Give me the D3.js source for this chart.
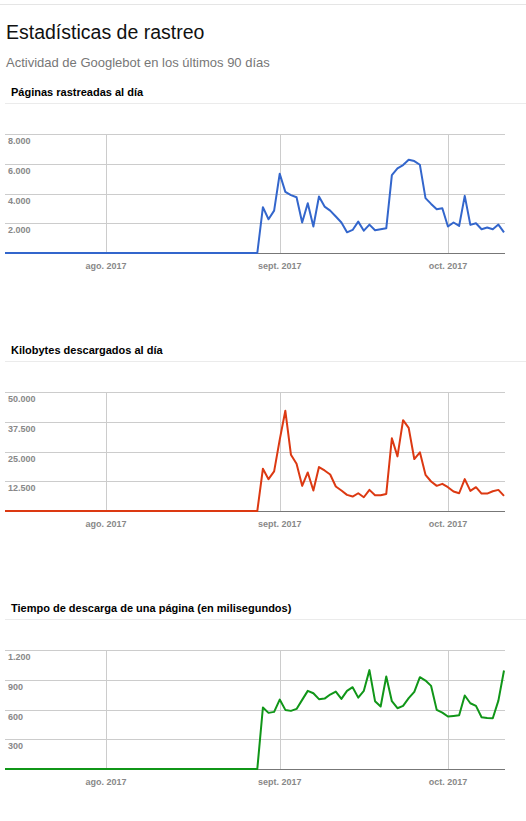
<!DOCTYPE html>
<html>
<head>
<meta charset="utf-8" />
<title>Estadísticas de rastreo</title>
<script src="https://d3js.org/d3.v7.min.js"></script>
<style>
  body { margin: 0; background: #fff; }
  svg { display: block; font-family: Arial, "Liberation Sans", sans-serif; }
</style>
</head>
<body>
<svg width="526" height="821"></svg>
<script>
// one value per day, starting at startDate
const startDate = new Date(2017, 6, 14);

const pagesPerDay = [
  0,0,0,0,0,0,0,0,0,0,0,0,0,0,0,0,0,0,
  0,0,0,0,0,0,0,0,0,0,0,0,0,0,0,0,0,0,0,0,0,0,0,0,0,0,0,0,
  3080,2270,2850,
  5330,4110,3890,3750,2050,3350,1780,3800,3120,2850,2450,2050,1390,1550,2110,
  1500,1910,1530,1600,1660,5240,5690,5910,6270,6180,5930,3690,3300,2940,3010,
  1780,2050,1820,3840,1890,2000,1600,1710,1600,1910,1390
];

const kbPerDay = [
  0,0,0,0,0,0,0,0,0,0,0,0,0,0,0,0,0,0,
  0,0,0,0,0,0,0,0,0,0,0,0,0,0,0,0,0,0,0,0,0,0,0,0,0,0,0,0,
  17750,13380,16620,
  30000,42100,23660,19860,10560,16200,8590,18450,17040,15350,10280,8590,6760,6060,7460,
  5770,8870,6620,6620,7180,30560,22960,38170,34930,21830,24650,15210,12390,10560,11410,
  10000,8170,7460,13380,8450,10000,7320,7320,8310,8870,6340
];

const msPerPage = [
  0,0,0,0,0,0,0,0,0,0,0,0,0,0,0,0,0,0,
  0,0,0,0,0,0,0,0,0,0,0,0,0,0,0,0,0,0,0,0,0,0,0,0,0,0,0,0,
  620,566,576,
  700,596,586,606,697,788,764,704,710,751,781,707,788,825,720,
  788,997,684,630,933,684,613,636,714,778,926,892,838,596,569,
  529,535,542,741,663,636,522,515,512,690,993
];

const monthTicks = [new Date(2017, 7, 1), new Date(2017, 8, 1), new Date(2017, 9, 1)];
const monthLabels = ["ago. 2017", "sept. 2017", "oct. 2017"];

const pagesTicks = [2000, 4000, 6000, 8000];
const kbTicks = [12500, 25000, 37500, 50000];
const msTicks = [300, 600, 900, 1200];

const esLocale = d3.formatLocale({ decimal: ",", thousands: ".", grouping: [3], currency: ["", " €"] });
const fmt = esLocale.format(",d");

const svg = d3.select("svg");

// page header
svg.append("line")
  .attr("x1", 0).attr("x2", 526).attr("y1", 4.5).attr("y2", 4.5)
  .attr("stroke", "#e5e5e5");

svg.append("text")
  .attr("x", 6).attr("y", 39)
  .attr("font-size", 19.5)
  .attr("fill", "#111")
  .text("Estadísticas de rastreo");

svg.append("text")
  .attr("x", 6).attr("y", 67)
  .attr("font-size", 13)
  .attr("fill", "#777")
  .text("Actividad de Googlebot en los últimos 90 días");

function drawPanel(top, title, values, ticks, color) {
  const g = svg.append("g");

  // heading + separator
  g.append("text")
    .attr("x", 11).attr("y", top)
    .attr("font-size", 11)
    .attr("font-weight", "bold")
    .attr("fill", "#000")
    .text(title);

  g.append("line")
    .attr("x1", 5).attr("x2", 526)
    .attr("y1", top + 7.5).attr("y2", top + 7.5)
    .attr("stroke", "#ebebeb");

  const plotTop = top + 38;
  const plotBottom = top + 157;

  const dates = values.map((d, i) => d3.timeDay.offset(startDate, i));

  const x = d3.scaleTime()
    .domain([dates[0], dates[dates.length - 1]])
    .range([5, 504]);

  const y = d3.scaleLinear()
    .domain([0, ticks[ticks.length - 1]])
    .range([plotBottom, plotTop]);

  // horizontal gridlines
  g.selectAll(".hgrid")
    .data(ticks)
    .enter()
    .append("line")
    .attr("x1", 5).attr("x2", 505)
    .attr("y1", (d) => Math.round(y(d)) + 0.5)
    .attr("y2", (d) => Math.round(y(d)) + 0.5)
    .attr("stroke", "#cccccc");

  // month gridlines
  g.selectAll(".vgrid")
    .data(monthTicks)
    .enter()
    .append("line")
    .attr("x1", (d) => Math.round(x(d)) + 0.5)
    .attr("x2", (d) => Math.round(x(d)) + 0.5)
    .attr("y1", plotTop).attr("y2", plotBottom)
    .attr("stroke", "#cccccc");

  // baseline
  g.append("line")
    .attr("x1", 5).attr("x2", 505)
    .attr("y1", Math.round(y(0)) + 0.5).attr("y2", Math.round(y(0)) + 0.5)
    .attr("stroke", "#777");

  // y labels sit inside the plot, just under each gridline
  g.selectAll(".ylab")
    .data(ticks)
    .enter()
    .append("text")
    .attr("x", 8)
    .attr("y", (d) => y(d) + 10)
    .attr("font-size", 9)
    .attr("font-weight", "bold")
    .attr("fill", "#888")
    .text((d) => fmt(d));

  // x labels
  g.selectAll(".xlab")
    .data(monthTicks)
    .enter()
    .append("text")
    .attr("x", (d) => x(d))
    .attr("y", plotBottom + 16)
    .attr("text-anchor", "middle")
    .attr("font-size", 9)
    .attr("font-weight", "bold")
    .attr("fill", "#888")
    .text((d, i) => monthLabels[i]);

  const line = d3.line()
    .x((d, i) => x(dates[i]))
    .y((d) => y(d));

  g.append("path")
    .attr("d", line(values))
    .attr("fill", "none")
    .attr("stroke", color)
    .attr("stroke-width", 2)
    .attr("stroke-linejoin", "round");
}

drawPanel(96, "Páginas rastreadas al día", pagesPerDay, pagesTicks, "#3366cc");
drawPanel(354, "Kilobytes descargados al día", kbPerDay, kbTicks, "#dc3912");
drawPanel(612, "Tiempo de descarga de una página (en milisegundos)", msPerPage, msTicks, "#109618");
</script>
</body>
</html>
